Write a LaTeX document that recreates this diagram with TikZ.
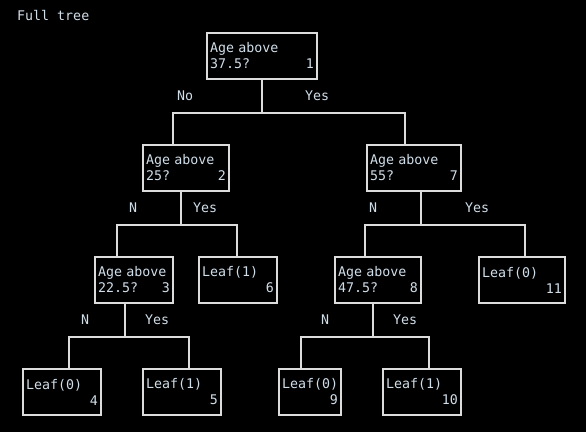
\documentclass[tikz,border=0pt]{standalone}
\usepackage{fontspec}
\setmonofont{DejaVu Sans Mono}
\usetikzlibrary{positioning}
\definecolor{linec}{RGB}{220,220,220}
\definecolor{txtc}{RGB}{208,222,234}

\begin{document}
\begin{tikzpicture}[x=1pt,y=-1pt,font=\ttfamily\fontsize{13.3}{16}\selectfont,text=txtc]
\tikzstyle{box}=[draw=linec,line width=2pt,anchor=north west,align=left,inner xsep=3pt,inner ysep=0pt,minimum height=46pt,text width=72pt]
\tikzstyle{lbl}=[anchor=base west,inner sep=0pt]
\tikzstyle{wire}=[draw=linec,line width=2pt]

\useasboundingbox (0,0) rectangle (586,432);
\fill[black] (0,0) rectangle (586,432);

\node[lbl] (title) at (17,20) {Full tree};

\node[box,text width=104pt] (1) at (206,32)  {Age above\\37.5?\hfill 1};
\node[box,text width=80pt]  (2) at (142,144) {Age above\\25?\hfill 2};
\node[box,text width=88pt]  (7) at (366,144) {Age above\\55?\hfill 7};
\node[box]                  (3) at (94,256)  {Age above\\22.5?\hfill 3};
\node[box]                  (6) at (198,256) {Leaf(1)\\\mbox{}\hfill 6};
\node[box,text width=80pt]  (8) at (334,256) {Age above\\47.5?\hfill 8};
\node[box,text width=80pt] (11) at (478,256) {Leaf(0)\\\mbox{}\hfill 11};
\node[box]                  (4) at (22,368)  {Leaf(0)\\\mbox{}\hfill 4};
\node[box]                  (5) at (142,368) {Leaf(1)\\\mbox{}\hfill 5};
\node[box,text width=56pt]  (9) at (278,368) {Leaf(0)\\\mbox{}\hfill 9};
\node[box]                 (10) at (382,368) {Leaf(1)\\\mbox{}\hfill 10};

\path[wire] (1.south) -- ++(0,33) coordinate (j1)
	-| ([xshift=31pt]2.north west)
(j1) -| ([xshift=39pt]7.north west);
\path[wire] ([xshift=39pt]2.south west) -- ++(0,33) coordinate (j2)
	-| ([xshift=23pt]3.north west)
(j2) -| ([xshift=39pt]6.north west);
\path[wire] ([xshift=55pt]7.south west) -- ++(0,33) coordinate (j7)
	-| ([xshift=31pt]8.north west)
(j7) -| ([xshift=47pt]11.north west);
\path[wire] ([xshift=31pt]3.south west) -- ++(0,33) coordinate (j3)
	-| ([xshift=47pt]4.north west)
(j3) -| ([xshift=47pt]5.north west);
\path[wire] ([xshift=39pt]8.south west) -- ++(0,33) coordinate (j8)
	-| ([xshift=23pt]9.north west)
(j8) -| ([xshift=47pt]10.north west);

\node[lbl] (no1)  at (177,100) {No};
\node[lbl] (yes1) at (305,100) {Yes};
\node[lbl] (no2)  at (129,212) {N};
\node[lbl] (yes2) at (193,212) {Yes};
\node[lbl] (no7)  at (369,212) {N};
\node[lbl] (yes7) at (465,212) {Yes};
\node[lbl] (no3)  at (81,324)  {N};
\node[lbl] (yes3) at (145,324) {Yes};
\node[lbl] (no8)  at (321,324) {N};
\node[lbl] (yes8) at (393,324) {Yes};
\end{tikzpicture}
\end{document}
